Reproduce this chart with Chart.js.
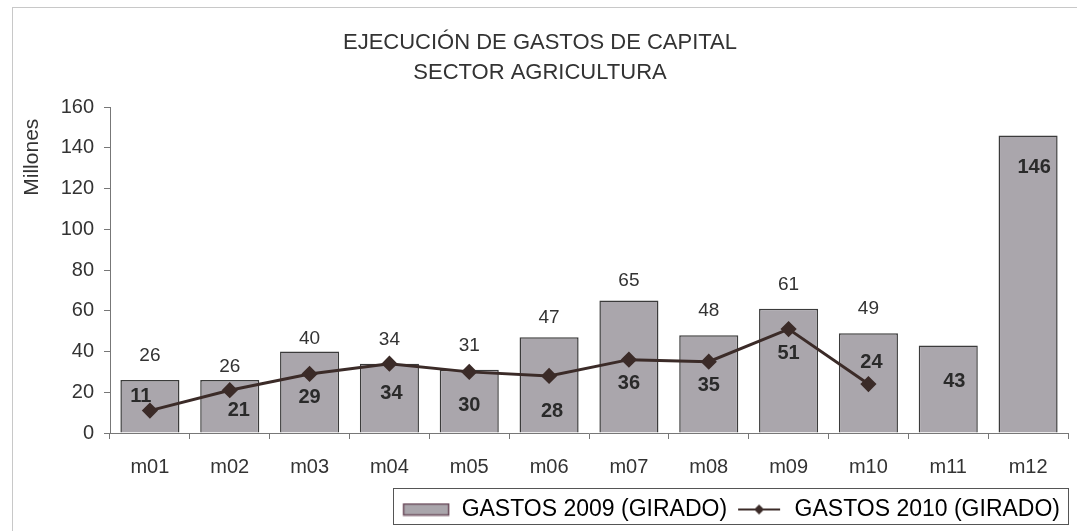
<!DOCTYPE html>
<html>
<head>
<meta charset="utf-8">
<script src="https://cdn.jsdelivr.net/npm/chart.js@4.4.1/dist/chart.umd.min.js"></script>
<style>
  html, body { margin: 0; padding: 0; background: #fff; }
  #wrap { width: 1077px; height: 531px; position: relative; }
</style>
</head>
<body>
<div id="wrap"><canvas id="chart"></canvas></div>
<script>
const months = ["m01", "m02", "m03", "m04", "m05", "m06", "m07", "m08", "m09", "m10", "m11", "m12"];
const gastos2009 = [26, 26, 40, 34, 31, 47, 65, 48, 61, 49, 43, 146];
const gastos2010 = [11, 21, 29, 34, 30, 28, 36, 35, 51, 24, null, null];
const yTicks = [0, 20, 40, 60, 80, 100, 120, 140, 160];

const FONT = "'Liberation Sans', Arial, sans-serif";
const barFill = "#aaa6ac";
const barEdge = "#3b3b3b";
const lineCol = "#3b2b28";
const LEGEND_SHIFT = 16;

// label nudges (pixels), hand placed like in the original sheet
const barLabelGap = { 1: 13, 2: 13, 5: 19, 6: 20 };
const lineLabelShift = { 0: [-9, -14], 1: [9, 20], 3: [2, 30], 4: [0, 34], 5: [3, 36], 9: [3, -22] };

function barSymbol() {
  const c = document.createElement("canvas");
  c.width = 48; c.height = 14;
  const g = c.getContext("2d");
  g.fillStyle = barFill; g.fillRect(1.5, 1.5, 45, 11);
  g.strokeStyle = "#6a4a5a"; g.lineWidth = 1.5; g.strokeRect(1.5, 1.5, 45, 11);
  return c;
}
function lineSymbol() {
  const c = document.createElement("canvas");
  c.width = 48; c.height = 14;
  const g = c.getContext("2d");
  g.strokeStyle = lineCol; g.lineWidth = 2;
  g.beginPath(); g.moveTo(3, 7); g.lineTo(45, 7); g.stroke();
  g.fillStyle = lineCol;
  g.beginPath(); g.moveTo(24, 2); g.lineTo(29, 7); g.lineTo(24, 12); g.lineTo(19, 7); g.closePath(); g.fill();
  return c;
}

const valueLabels = {
  id: "valueLabels",
  afterUpdate(chart) {
    // nudge legend and title a little left, as in the source
    const lg = chart.legend;
    lg.left -= LEGEND_SHIFT; lg.right -= LEGEND_SHIFT;
    (lg.legendHitBoxes || []).forEach(b => { b.left -= LEGEND_SHIFT; });
    if (chart.titleBlock) { chart.titleBlock.left -= 12; chart.titleBlock.right -= 12; }
  },
  afterDatasetsDraw(chart) {
    const ctx = chart.ctx;
    const x = chart.scales.x, y = chart.scales.y;
    ctx.save();
    ctx.textAlign = "center";
    ctx.textBaseline = "middle";
    gastos2009.forEach((v, i) => {
      const cx = x.getPixelForValue(i);
      if (gastos2010[i] === null) {
        ctx.font = "bold 20px " + FONT;
        ctx.fillStyle = "#2a2a2a";
        const yy = v > 100 ? y.getPixelForValue(v) + 32 : (y.getPixelForValue(v) + y.getPixelForValue(0)) / 2 - 8;
        ctx.fillText(String(v), cx + 6, yy);
      } else {
        ctx.font = "19px " + FONT;
        ctx.fillStyle = "#333";
        ctx.fillText(String(v), cx, y.getPixelForValue(v) - (barLabelGap[i] || 24));
      }
    });
    gastos2010.forEach((v, i) => {
      if (v === null) return;
      const cx = x.getPixelForValue(i);
      const py = y.getPixelForValue(v);
      const [dx, dy] = lineLabelShift[i] || [0, 24];
      ctx.font = "bold 20px " + FONT;
      ctx.fillStyle = "#2a2a2a";
      ctx.fillText(String(v), cx + dx, py + dy);
    });
    ctx.restore();
  },
  afterDraw(chart) {
    const ctx = chart.ctx;
    const boxes = chart.legend.legendHitBoxes;
    ctx.save();
    if (boxes && boxes.length) {
      const l = Math.min(...boxes.map(b => b.left)) - 9;
      const r = Math.max(...boxes.map(b => b.left + b.width)) + 8;
      const t = Math.min(...boxes.map(b => b.top)) - 10;
      const bt = Math.max(...boxes.map(b => b.top + b.height)) + 3;
      ctx.strokeStyle = "#555";
      ctx.lineWidth = 1;
      ctx.strokeRect(Math.round(l) + 0.5, Math.round(t) + 0.5, Math.round(r - l), Math.round(bt - t));
    }
    // outer frame
    ctx.strokeStyle = "#c8c8c8";
    ctx.lineWidth = 1;
    ctx.strokeRect(12.5, 7.5, 1080, 540);
    ctx.restore();
  }
};

const chart = new Chart(document.getElementById("chart"), {
  type: "bar",
  data: {
    labels: months,
    datasets: [
      {
        type: "bar",
        label: "GASTOS 2009 (GIRADO)",
        data: gastos2009,
        backgroundColor: barFill,
        borderColor: barEdge,
        borderWidth: 1.5,
        barPercentage: 0.74,
        categoryPercentage: 1,
        order: 2
      },
      {
        type: "line",
        label: "GASTOS 2010 (GIRADO)",
        data: gastos2010,
        borderColor: lineCol,
        backgroundColor: lineCol,
        borderWidth: 3,
        pointStyle: "rectRot",
        pointRadius: 6,
        tension: 0,
        order: 1
      }
    ]
  },
  options: {
    responsive: true,
    maintainAspectRatio: false,
    animation: false,
    devicePixelRatio: 1,
    layout: { padding: { left: 20, right: -7, top: 28, bottom: 0 } },
    plugins: {
      tooltip: { enabled: false },
      title: {
        display: true,
        text: ["EJECUCIÓN DE GASTOS DE CAPITAL", "SECTOR AGRICULTURA"],
        color: "#333",
        font: { family: FONT, size: 22, weight: "normal", lineHeight: 1.364 },
        padding: { top: 0, bottom: 19 }
      },
      legend: {
        position: "bottom",
        align: "end",
        labels: {
          color: "#222",
          font: { family: FONT, size: 23 },
          usePointStyle: true,
          pointStyleWidth: 48,
          padding: 8,
          generateLabels: () => [
            { text: "GASTOS 2009 (GIRADO)", pointStyle: barSymbol(), datasetIndex: 0, fillStyle: barFill, strokeStyle: barEdge, lineWidth: 0, hidden: false },
            { text: "GASTOS 2010 (GIRADO)", pointStyle: lineSymbol(), datasetIndex: 1, fillStyle: lineCol, strokeStyle: lineCol, lineWidth: 0, hidden: false }
          ]
        }
      }
    },
    scales: {
      x: {
        afterFit: s => { s.height = 57; },
        grid: { drawOnChartArea: false, offset: true, color: "#777", tickLength: 6 },
        border: { color: "#777" },
        ticks: { color: "#333", font: { family: FONT, size: 20 }, padding: 16 }
      },
      y: {
        min: 0,
        max: 160,
        afterFit: s => { s.width = 90; },
        afterBuildTicks: s => { s.ticks = yTicks.map(v => ({ value: v })); },
        grid: { drawOnChartArea: false, color: "#777", tickLength: 6 },
        border: { color: "#777" },
        ticks: { color: "#333", font: { family: FONT, size: 20 }, padding: 10 },
        title: {
          display: true,
          text: "Millones  ",
          align: "end",
          color: "#333",
          font: { family: FONT, size: 21 },
          padding: { top: 0, bottom: 5 }
        }
      }
    }
  },
  plugins: [valueLabels]
});
</script>
</body>
</html>
